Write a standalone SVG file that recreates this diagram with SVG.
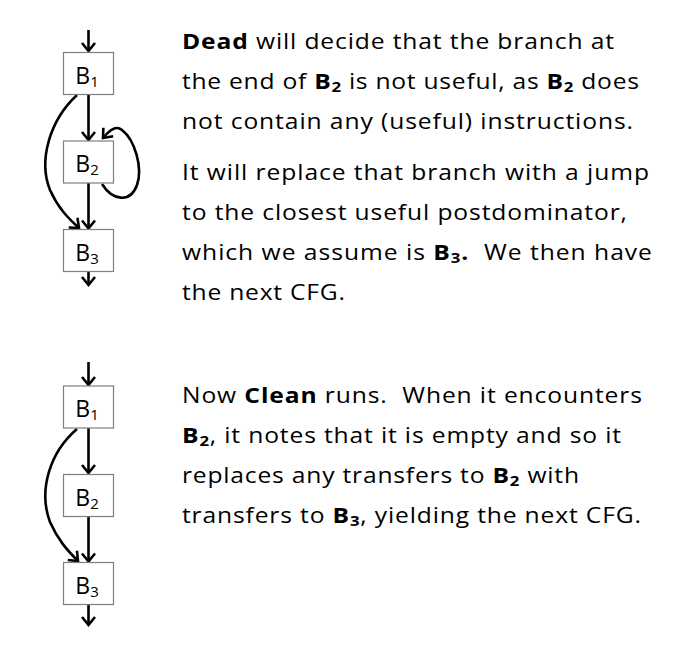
<svg xmlns="http://www.w3.org/2000/svg" width="700" height="666" viewBox="0 0 700 666">
<style>
.box{fill:#fff;stroke:#7f7f7f;stroke-width:1.2}
.lbl{font-family:"Open Sans","Liberation Sans",sans-serif;font-size:23px;fill:#000;text-anchor:middle}
.edge{fill:none;stroke:#000;stroke-width:2.6}
.body{font-family:"Open Sans","Liberation Sans",sans-serif;font-size:22px;fill:#000}
.b{font-weight:bold}
</style>
<defs>
<marker id="ah" markerUnits="userSpaceOnUse" markerWidth="20" markerHeight="20" refX="0" refY="0" viewBox="-10 -10 20 20" orient="auto">
<path d="M-8,-6.5 L0,0 L-8,6.5" fill="none" stroke="#000" stroke-width="2.6" stroke-linejoin="miter"/>
</marker>
</defs>
<rect width="700" height="666" fill="#fff"/>
<g id="connectors">
<path class="edge" d="M88.5,30 L88.5,51" marker-end="url(#ah)"/>
<path class="edge" d="M88.5,94.5 L88.5,140" marker-end="url(#ah)"/>
<path class="edge" d="M88.5,183 L88.5,228.5" marker-end="url(#ah)"/>
<path class="edge" d="M88.5,271 L88.5,285" marker-end="url(#ah)"/>
<path class="edge" d="M77,95 C50,120 38,160 50,190 C58,208 68,218 79,228" marker-end="url(#ah)"/>
<path class="edge" d="M102,184 C112,200 130,204 137,185 C143,168 135,140 122,130 C116,125 110,130 103,138" marker-end="url(#ah)"/>
<path class="edge" d="M88.5,362 L88.5,385" marker-end="url(#ah)"/>
<path class="edge" d="M88.5,428 L88.5,473" marker-end="url(#ah)"/>
<path class="edge" d="M88.5,517 L88.5,561.5" marker-end="url(#ah)"/>
<path class="edge" d="M88.5,604.5 L88.5,625" marker-end="url(#ah)"/>
<path class="edge" d="M77,429 C50,452 38,490 50,522 C58,540 67,550 78,561" marker-end="url(#ah)"/>
</g>
<g id="top-B1"><rect class="box" x="63.5" y="52.5" width="50" height="42"/><text class="lbl" x="87" y="83.5">B<tspan font-size="15" dy="3">1</tspan></text></g>
<g id="top-B2"><rect class="box" x="63.5" y="141" width="50" height="42"/><text class="lbl" x="87" y="172">B<tspan font-size="15" dy="3">2</tspan></text></g>
<g id="top-B3"><rect class="box" x="63.5" y="229.5" width="50" height="42"/><text class="lbl" x="87" y="260.5">B<tspan font-size="15" dy="3">3</tspan></text></g>
<g id="bot-B1"><rect class="box" x="63.5" y="386" width="50" height="42"/><text class="lbl" x="87" y="417">B<tspan font-size="15" dy="3">1</tspan></text></g>
<g id="bot-B2"><rect class="box" x="63.5" y="474.5" width="50" height="42"/><text class="lbl" x="87" y="505.5">B<tspan font-size="15" dy="3">2</tspan></text></g>
<g id="bot-B3"><rect class="box" x="63.5" y="562.5" width="50" height="42"/><text class="lbl" x="87" y="593.5">B<tspan font-size="15" dy="3">3</tspan></text></g>
<g id="text-top" class="body" transform="scale(1.12,1)">
<text x="162.5" y="49" textLength="385.7" lengthAdjust="spacing"><tspan class="b">Dead</tspan> will decide that the branch at</text>
<text x="162.5" y="89.5" textLength="408" lengthAdjust="spacing">the end of <tspan class="b">B</tspan><tspan class="b" font-size="15" dy="3">2</tspan><tspan dy="-3"> is not useful, as </tspan><tspan class="b">B</tspan><tspan class="b" font-size="15" dy="3">2</tspan><tspan dy="-3"> does</tspan></text>
<text x="162.5" y="129.5" textLength="402.7" lengthAdjust="spacing">not contain any (useful) instructions.</text>
<text x="162.5" y="180.5" textLength="417" lengthAdjust="spacing">It will replace that branch with a jump</text>
<text x="162.5" y="220.5" textLength="397.3" lengthAdjust="spacing">to the closest useful postdominator,</text>
<text x="162.5" y="260.5" textLength="419.6" lengthAdjust="spacing" xml:space="preserve">which we assume is <tspan class="b">B</tspan><tspan class="b" font-size="15" dy="3">3</tspan><tspan class="b" dy="-3">.</tspan>  We then have</text>
<text x="162.5" y="300" textLength="145.5" lengthAdjust="spacing">the next CFG.</text>
</g>
<g id="text-bottom" class="body" transform="scale(1.12,1)">
<text x="162.5" y="403.5" textLength="410.7" lengthAdjust="spacing" xml:space="preserve">Now <tspan class="b">Clean</tspan> runs.  When it encounters</text>
<text x="162.5" y="443.5" textLength="392" lengthAdjust="spacing"><tspan class="b">B</tspan><tspan class="b" font-size="15" dy="3">2</tspan><tspan dy="-3">, it notes that it is empty and so it</tspan></text>
<text x="162.5" y="483.5" textLength="354.5" lengthAdjust="spacing">replaces any transfers to <tspan class="b">B</tspan><tspan class="b" font-size="15" dy="3">2</tspan><tspan dy="-3"> with</tspan></text>
<text x="162.5" y="523.5" textLength="409.8" lengthAdjust="spacing">transfers to <tspan class="b">B</tspan><tspan class="b" font-size="15" dy="3">3</tspan><tspan dy="-3">, yielding the next CFG.</tspan></text>
</g>
</svg>
